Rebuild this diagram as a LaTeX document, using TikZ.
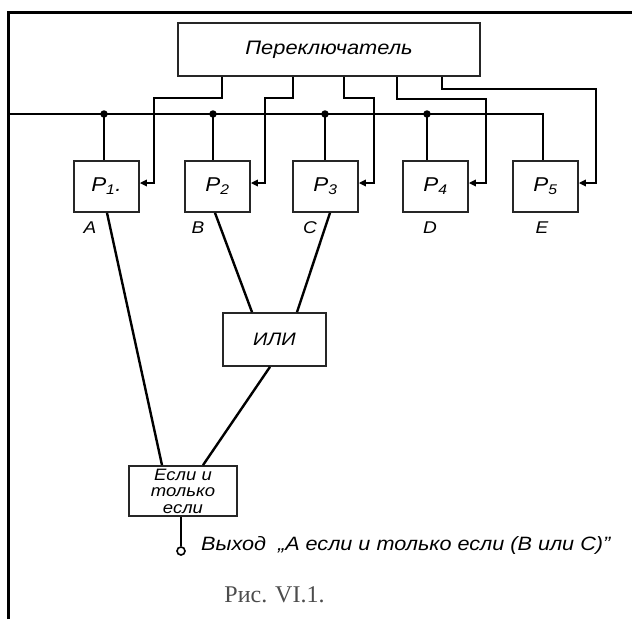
\documentclass[tikz,border=0pt]{standalone}
\usepackage{fontspec}
\setmainfont{Liberation Serif}
\newfontfamily\gost[FakeStretch=1.12]{Liberation Sans}
\usetikzlibrary{arrows.meta}
\begin{document}
\begin{tikzpicture}[x=1pt,y=-1pt,
  blk/.style={draw=black!85, line width=1.7pt, inner sep=0pt, align=center,
    font=\gost\itshape\fontsize{18}{16}\selectfont},
  relay/.style={blk, minimum width=65pt, minimum height=51pt,
    font=\gost\itshape\fontsize{20}{20}\selectfont},
  wire/.style={line width=2.4pt, black},
  feed/.style={wire, -{Triangle[length=7pt,width=6.5pt]}},
  junct/.style={circle, fill=black, inner sep=0pt, minimum size=7.5pt},
  lbl/.style={font=\gost\itshape\fontsize{17}{17}\selectfont, inner sep=0pt},
]
\useasboundingbox (0,0) rectangle (632,619);
% frame
\coordinate (fb) at (8,619);
\coordinate (fc) at (8,12);
\coordinate (fr) at (632,12);
\draw[line width=3pt] (fb) -- (fc) -- (fr);

% switch
\node[blk, minimum width=302pt, minimum height=53pt,
  font=\gost\itshape\fontsize{19.5}{19.5}\selectfont] (sw) at (329,49.5) {Переключатель};

% relays
\node[relay] (P1) at (106.5,186.5) {Р\textsubscript{1}.};
\node[relay] (P2) at (217.5,186.5) {Р\textsubscript{2}};
\node[relay] (P3) at (325.5,186.5) {Р\textsubscript{3}};
\node[relay] (P4) at (435.5,186.5) {Р\textsubscript{4}};
\node[relay] (P5) at (545.5,186.5) {Р\textsubscript{5}};

% labels
\node[lbl] (lA) at (90,228) {A};
\node[lbl] (lB) at (198,228) {B};
\node[lbl] (lC) at (310,228) {C};
\node[lbl] (lD) at (430,228) {D};
\node[lbl] (lE) at (542,228) {E};

% bus
\coordinate (busL) at (8,114);
\coordinate (busR) at (543,114);
\draw[wire] (busL) -- (busR) -- (busR |- P5.north);
\node[junct] (d1) at (104,114) {};
\node[junct] (d2) at (213,114) {};
\node[junct] (d3) at (325,114) {};
\node[junct] (d4) at (427,114) {};
\draw[wire] (d1.center) -- (d1.center |- P1.north);
\draw[wire] (d2.center) -- (d2.center |- P2.north);
\draw[wire] (d3.center) -- (d3.center |- P3.north);
\draw[wire] (d4.center) -- (d4.center |- P4.north);

% switch feeds
\draw[feed] (222,0 |- sw.south) |- (154,98) |- (0,183 -| P1.east);
\draw[feed] (293,0 |- sw.south) |- (265,98) |- (0,183 -| P2.east);
\draw[feed] (344,0 |- sw.south) |- (374,98) |- (0,183 -| P3.east);
\draw[feed] (397,0 |- sw.south) |- (486,99) |- (0,183 -| P4.east);
\draw[feed] (442,0 |- sw.south) |- (596,89) |- (0,183 -| P5.east);

% logic
\node[blk, minimum width=103pt, minimum height=53pt] (OR) at (274.5,339.5) {ИЛИ};
\node[blk, minimum width=108pt, minimum height=50pt,
  font=\gost\itshape\fontsize{16.5}{16.5}\selectfont] (IFF) at (183,491) {Если и\\только\\если};

\draw[wire] (107,0 |- P1.south) -- (162,0 |- IFF.north);
\draw[wire] (215,0 |- P2.south) -- (252,0 |- OR.north);
\draw[wire] (330,0 |- P3.south) -- (297,0 |- OR.north);
\draw[wire] (270,0 |- OR.south) -- (203,0 |- IFF.north);

\node[circle, draw, line width=1.6pt, minimum size=8pt, inner sep=0pt] (out) at (181,551) {};
\draw[wire] (181,0 |- IFF.south) -- (out.north);

\node[lbl, anchor=west, font=\gost\itshape\fontsize{19.3}{19.3}\selectfont] (outtxt) at (201,545)
  {Выход \ „A если и только если (B или C)”};

\node[text=black!70, font=\fontsize{24}{24}\selectfont, inner sep=0pt] (cap) at (274.5,595) {Рис. VI.1.};
\end{tikzpicture}
\end{document}
